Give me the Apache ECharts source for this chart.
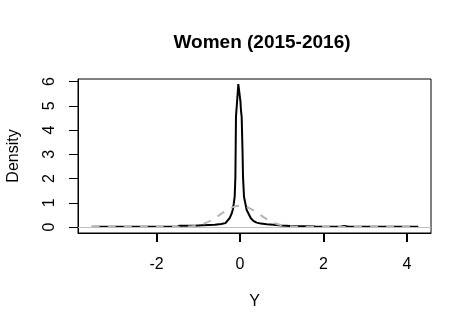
<!DOCTYPE html>
<html>
<head>
<meta charset="utf-8">
<script src="https://cdn.jsdelivr.net/npm/echarts@6/dist/echarts.min.js"></script>
<style>
  html, body { margin: 0; padding: 0; background: #fff; }
  #chart { width: 472px; height: 331px; }
</style>
</head>
<body>
<div id="chart"></div>
<script>
// kernel density of Y (black solid line)
const densX = [-3.55, -2.0, -1.5, -1.45, -1.1, -0.9, -0.6, -0.45, -0.35, -0.25, -0.2, -0.175, -0.15, -0.127, -0.11, -0.096, -0.06, -0.04, -0.01, 0.01, 0.024, 0.04, 0.06, 0.072, 0.096, 0.16, 0.26, 0.32, 0.4, 0.5, 0.64, 0.8, 1.0, 1.2, 1.5, 1.8, 2.4, 2.5, 2.6, 3.0, 4.27];
const densY = [0.01, 0.01, 0.015, 0.05, 0.05, 0.07, 0.09, 0.12, 0.16, 0.36, 0.55, 0.7, 0.95, 1.25, 2.08, 4.56, 5.4, 5.9, 5.85, 5.2, 4.8, 4.56, 3.2, 2.08, 1.25, 0.7, 0.36, 0.25, 0.18, 0.14, 0.11, 0.09, 0.06, 0.04, 0.03, 0.02, 0.015, 0.04, 0.015, 0.01, 0.01];

// reference normal curve (grey dashed)
const normX = [-3.55, -2.0, -1.5, -1.2, -1.0, -0.8, -0.6, -0.4, -0.2, 0.0, 0.2, 0.4, 0.6, 0.8, 1.0, 1.2, 1.5, 2.0, 4.27];
const normY = [0, 0, 0.004, 0.025, 0.075, 0.18, 0.37, 0.6, 0.8, 0.88, 0.8, 0.6, 0.37, 0.18, 0.075, 0.025, 0.004, 0, 0];

const xTicks = [-2, 0, 2, 4];
const yTicks = [0, 1, 2, 3, 4, 5, 6];

const font = "'Liberation Sans', Arial, sans-serif";

const chart = echarts.init(document.getElementById("chart"));
chart.setOption({
  animation: false,
  title: {
    text: "Women (2015-2016)",
    left: 257,
    top: 28,
    textAlign: "center",
    textStyle: { fontFamily: font, fontSize: 19, fontWeight: "bold", color: "#000" }
  },
  grid: {
    left: 78, right: 41, top: 79, bottom: 98,
    outerBoundsMode: "none",
    containLabel: false,
    show: true, borderColor: "#000", borderWidth: 1
  },
  xAxis: {
    type: "value",
    position: "bottom",
    min: -3.88,
    max: 4.575,
    name: "Y",
    nameLocation: "middle",
    nameGap: 61,
    nameTextStyle: { fontFamily: font, fontSize: 16, color: "#000" },
    axisLine: { show: true, onZero: false, lineStyle: { color: "#000", width: 1 } },
    splitLine: { show: false },
    axisTick: { show: true, inside: false, length: 9, customValues: xTicks, lineStyle: { color: "#000", width: 2 } },
    axisLabel: { customValues: xTicks, margin: 24, fontFamily: font, fontSize: 16, color: "#000" }
  },
  yAxis: {
    type: "value",
    min: -0.248,
    max: 6.11,
    name: "Density",
    nameLocation: "middle",
    nameGap: 56,
    nameRotate: 90,
    nameTextStyle: { fontFamily: font, fontSize: 16, color: "#000" },
    axisLine: { show: true, onZero: false, lineStyle: { color: "#000", width: 1 } },
    splitLine: { show: false },
    axisTick: { show: true, inside: false, length: 9, customValues: yTicks, lineStyle: { color: "#000", width: 1 } },
    axisLabel: { customValues: yTicks, rotate: 90, margin: 20, fontFamily: font, fontSize: 16, color: "#000" }
  },
  series: [
    {
      type: "line",
      data: densX.map((x, i) => [x, densY[i]]),
      showSymbol: false,
      lineStyle: { color: "#000", width: 2 },
      z: 2
    },
    {
      type: "line",
      data: normX.map((x, i) => [x, normY[i]]),
      showSymbol: false,
      smooth: 0.3,
      lineStyle: { color: "#b5b5b5", width: 2, type: [8, 8] },
      z: 3,
      markLine: {
        silent: true,
        symbol: "none",
        label: { show: false },
        lineStyle: { color: "#bebebe", width: 1, type: "solid" },
        data: [{ yAxis: 0 }]
      }
    }
  ]
});
</script>
</body>
</html>
